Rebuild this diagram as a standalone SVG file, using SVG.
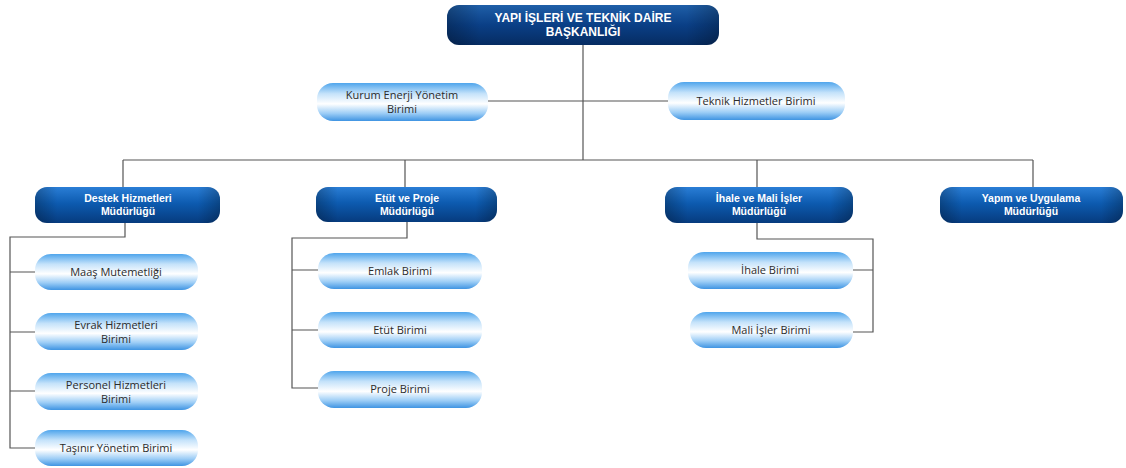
<svg xmlns="http://www.w3.org/2000/svg" width="1126" height="468" viewBox="0 0 1126 468">
<defs>
<linearGradient id="dark" x1="0" y1="0" x2="0" y2="1">
<stop offset="0" stop-color="#2a7ed6"/>
<stop offset="0.45" stop-color="#0d5bb0"/>
<stop offset="1" stop-color="#063b7e"/>
</linearGradient>
<linearGradient id="darkTop" x1="0" y1="0" x2="0" y2="1">
<stop offset="0" stop-color="#1f5fa8"/>
<stop offset="0.5" stop-color="#0a3f86"/>
<stop offset="1" stop-color="#062c62"/>
</linearGradient>
<linearGradient id="light" x1="0" y1="0" x2="0" y2="1">
<stop offset="0" stop-color="#4fa5ec"/>
<stop offset="0.28" stop-color="#c4e2fa"/>
<stop offset="0.55" stop-color="#ffffff"/>
<stop offset="0.8" stop-color="#9ccdf6"/>
<stop offset="1" stop-color="#3f94e2"/>
</linearGradient>
<linearGradient id="sheen" x1="0" y1="0" x2="1" y2="0">
<stop offset="0" stop-color="#000" stop-opacity="0.25"/>
<stop offset="0.12" stop-color="#000" stop-opacity="0"/>
<stop offset="0.88" stop-color="#000" stop-opacity="0"/>
<stop offset="1" stop-color="#000" stop-opacity="0.25"/>
</linearGradient>
</defs>
<style>
.d{fill:url(#dark);}
.dt{fill:url(#darkTop);}
.l{fill:url(#light);}
.sh{fill:url(#sheen);}
.td{font-family:"Liberation Sans",Arial,sans-serif;font-weight:bold;font-size:10.5px;fill:#ffffff;text-anchor:middle;}
.tt{font-family:"Liberation Sans",Arial,sans-serif;font-weight:bold;font-size:12px;fill:#ffffff;text-anchor:middle;}
.tl{font-family:"Open Sans","Liberation Sans",sans-serif;font-size:11px;fill:#2b2b2b;text-anchor:middle;}
.c{fill:none;stroke:#555555;stroke-width:1.2;}
</style>
<rect width="1126" height="468" fill="#ffffff"/>
<g id="connectors">
<path class="c" d="M583 45 V160"/>
<path class="c" d="M488 101 H668"/>
<path class="c" d="M123 160 H1033"/>
<path class="c" d="M123 160 V188 M405 160 V188 M757 160 V188 M1033 160 V188"/>
<path class="c" d="M125 223 V237 H10 V448 H35 M10 272 H35 M10 332 H35 M10 391 H35"/>
<path class="c" d="M407 222 V238 H292 V388 H318 M292 270 H318 M292 330 H318"/>
<path class="c" d="M757 223 V239 H873 V332 H853 M873 270 H853"/>
</g>
<g id="n-top"><rect class="dt" x="447" y="5" width="272" height="40" rx="12"/><rect class="sh" x="447" y="5" width="272" height="40" rx="12"/><text class="tt" x="583" y="22">YAPI İŞLERİ VE TEKNİK DAİRE</text><text class="tt" x="583" y="36">BAŞKANLIĞI</text></g>
<g id="n-kurum"><rect class="l" x="317" y="83" width="171" height="38" rx="16"/><text class="tl" x="402" y="99">Kurum Enerji Yönetim</text><text class="tl" x="402" y="113">Birimi</text></g>
<g id="n-teknik"><rect class="l" x="668" y="82" width="177" height="38" rx="16"/><text class="tl" x="756" y="105">Teknik Hizmetler Birimi</text></g>
<g id="n-destek"><rect class="d" x="35" y="187" width="185" height="36" rx="12"/><rect class="sh" x="35" y="187" width="185" height="36" rx="12"/><text class="td" x="128" y="202">Destek Hizmetleri</text><text class="td" x="128" y="215">Müdürlüğü</text></g>
<g id="n-etut"><rect class="d" x="316" y="187" width="181" height="35" rx="12"/><rect class="sh" x="316" y="187" width="181" height="35" rx="12"/><text class="td" x="407" y="202">Etüt ve Proje</text><text class="td" x="407" y="215">Müdürlüğü</text></g>
<g id="n-ihale"><rect class="d" x="665" y="187" width="188" height="36" rx="12"/><rect class="sh" x="665" y="187" width="188" height="36" rx="12"/><text class="td" x="759" y="202">İhale ve Mali İşler</text><text class="td" x="759" y="215">Müdürlüğü</text></g>
<g id="n-yapim"><rect class="d" x="940" y="187" width="183" height="36" rx="12"/><rect class="sh" x="940" y="187" width="183" height="36" rx="12"/><text class="td" x="1031" y="202">Yapım ve Uygulama</text><text class="td" x="1031" y="215">Müdürlüğü</text></g>
<g id="n-maas"><rect class="l" x="35" y="254" width="163" height="36" rx="16"/><text class="tl" x="116" y="276">Maaş Mutemetliği</text></g>
<g id="n-evrak"><rect class="l" x="35" y="313" width="163" height="37" rx="16"/><text class="tl" x="116" y="329">Evrak Hizmetleri</text><text class="tl" x="116" y="343">Birimi</text></g>
<g id="n-personel"><rect class="l" x="35" y="373" width="163" height="37" rx="16"/><text class="tl" x="116" y="389">Personel Hizmetleri</text><text class="tl" x="116" y="403">Birimi</text></g>
<g id="n-tasinir"><rect class="l" x="35" y="430" width="163" height="36" rx="16"/><text class="tl" x="116" y="452">Taşınır Yönetim Birimi</text></g>
<g id="n-emlak"><rect class="l" x="318" y="253" width="164" height="36" rx="16"/><text class="tl" x="400" y="275">Emlak Birimi</text></g>
<g id="n-etutb"><rect class="l" x="318" y="312" width="164" height="36" rx="16"/><text class="tl" x="400" y="334">Etüt Birimi</text></g>
<g id="n-proje"><rect class="l" x="318" y="371" width="164" height="37" rx="16"/><text class="tl" x="400" y="393">Proje Birimi</text></g>
<g id="n-ihaleb"><rect class="l" x="688" y="252" width="165" height="37" rx="16"/><text class="tl" x="770" y="274">İhale Birimi</text></g>
<g id="n-mali"><rect class="l" x="690" y="312" width="163" height="36" rx="16"/><text class="tl" x="771" y="334">Mali İşler Birimi</text></g>
</svg>
